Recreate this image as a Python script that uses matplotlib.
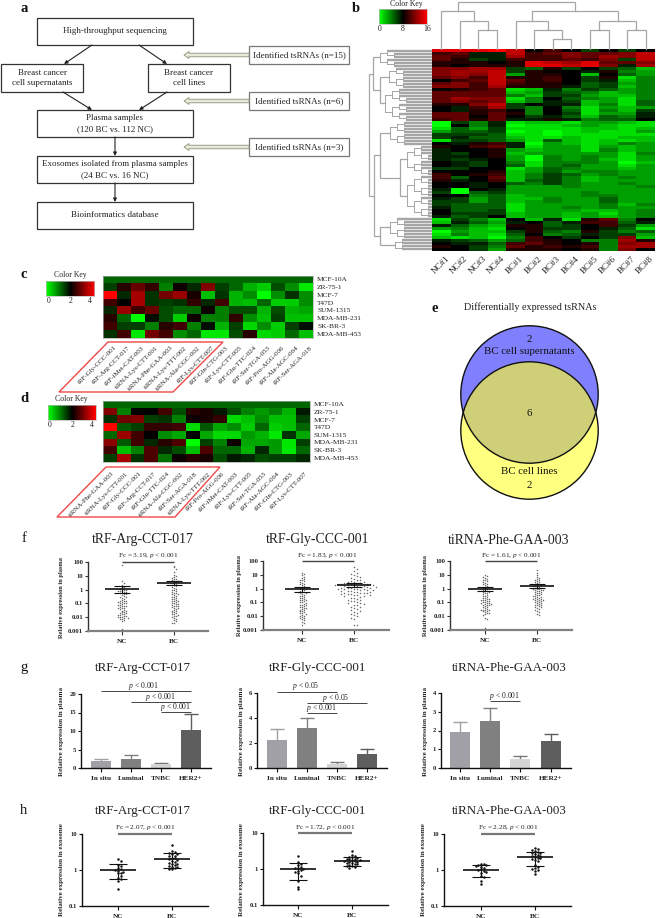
import numpy as np
import matplotlib
matplotlib.use("Agg")
import matplotlib.pyplot as plt
from matplotlib.colors import LinearSegmentedColormap
from matplotlib.patches import Rectangle, Circle, Polygon, FancyArrow

plt.rcParams['font.family'] = ['Liberation Serif', 'DejaVu Serif']
plt.rcParams['mathtext.fontset'] = 'custom'
plt.rcParams['mathtext.rm'] = 'Liberation Serif'
plt.rcParams['mathtext.it'] = 'Liberation Serif:italic'
plt.rcParams['mathtext.bf'] = 'Liberation Serif:bold'

# ------------------ DATA ------------------
b_cols = ['NC#1','NC#2','NC#3','NC#4','BC#1','BC#2','BC#3','BC#4','BC#5','BC#6','BC#7','BC#8']
b_rows = [
 [15,15,15,16,14,8,10,8,6,8,6,8],[10,11,7,7,14,10,11,12,11,11,12,14],[11,10,7,7,13,10,10,12,11,13,12,14],
 [11,9,6,7,10,10,10,11,10,12,6,14],[9,9,9,8,9,15,14,13,15,11,11,12],[9,8,9,9,9,15,15,14,15,12,7,13],
 [12,12,13,13,6,5,9,6,8,6,5,2],[12,13,13,14,6,9,8,8,7,9,4,3],[12,13,12,14,3,9,9,8,2,8,5,3],
 [11,12,10,14,9,9,10,8,6,9,1,4],[8,10,11,14,11,9,10,8,6,7,2,4],[11,12,10,14,10,9,9,8,5,6,3,4],
 [12,12,10,13,9,9,9,7,5,6,2,4],
 [8,9,10,11,1,2,7,4,6,5,3,4],[11,11,11,11,2,3,6,5,4,2,3,4],[11,11,11,11,4,2,6,6,3,2,2,4],
 [11,13,12,12,1,4,8,5,4,3,1,4],[11,12,11,12,2,4,7,6,2,3,1,5],[9,9,12,14,6,8,7,7,2,4,1,5],
 [8,7,10,13,6,4,8,4,1,3,2,3],[8,7,9,10,8,4,8,5,1,4,2,6],[11,11,9,11,9,4,8,6,1,3,3,7],
 [11,11,8,11,8,6,7,5,2,5,4,7],[10,11,9,11,7,7,9,7,4,5,5,8],
 [0,6,4,7,1,2,2,1,3,3,2,1],[0,8,4,7,0,1,1,2,3,2,1,1],[1,5,3,6,1,1,1,1,2,2,1,2],[3,5,5,6,0,1,0,1,2,1,1,3],
 [6,6,6,5,1,1,0,1,1,1,1,1],[6,7,5,5,2,1,1,2,1,1,2,2],[1,6,6,5,3,1,5,2,1,2,1,2],[8,7,9,10,7,0,3,2,1,2,4,3],
 [9,8,10,11,7,1,3,3,1,3,2,3],[7,8,8,9,3,2,3,3,1,4,2,3],[7,6,8,9,2,3,3,3,3,3,1,4],[7,7,8,9,3,0,4,3,4,3,1,3],
 [7,6,7,8,3,0,4,3,4,2,1,3],[8,7,6,8,4,1,4,4,4,3,0,2],[8,7,6,8,5,1,4,5,3,3,1,3],[6,6,8,8,1,3,5,4,3,3,2,3],
 [8,8,8,9,2,3,5,3,4,4,3,3],[10,8,9,10,2,4,6,5,3,4,3,3],[10,5,8,11,2,4,6,4,2,3,4,3],[9,7,8,10,2,5,6,4,2,3,3,3],
 [8,8,7,8,5,4,6,4,3,3,4,3],[8,8,7,8,3,3,3,4,3,3,3,4],[7,0,8,7,3,3,3,3,3,3,3,3],[6,0,5,6,3,3,3,3,4,3,3,3],
 [8,8,4,5,2,3,3,3,4,4,3,3],[7,6,3,5,2,2,4,3,3,5,3,3],[6,6,3,5,2,3,4,3,3,5,3,3],[6,5,5,5,1,3,3,3,3,4,2,4],
 [7,5,5,5,1,3,3,4,3,4,3,3],[8,5,5,6,1,3,3,3,2,2,3,4],[8,6,6,6,2,3,3,2,3,1,3,4],[7,5,6,8,2,3,3,2,3,2,3,4],
 [1,6,4,2,8,2,7,1,9,11,4,8],[2,7,5,3,7,8,5,7,10,10,5,7],[7,5,3,2,9,9,5,6,8,10,6,3],[3,4,2,1,8,9,6,6,8,7,5,1],
 [0,3,2,2,6,9,5,4,9,6,4,5],[1,4,2,1,5,8,4,5,7,6,6,3],[2,1,2,0,4,10,8,6,8,6,12,2],[7,6,5,3,5,10,9,8,4,4,13,9],
 [8,7,7,5,10,11,9,8,9,4,12,13],[9,8,6,4,11,9,10,9,10,4,13,13],[8,8,6,3,9,9,9,8,9,4,12,8],
]
cell_lines_c = ['MCF-10A','ZR-75-1','MCF-7','T47D','SUM-1315','MDA-MB-231','SK-BR-3','MDA-MB-453']
c_labels = ['tRF-Gly-CCC-001','tRF-Arg-CCT-017','tRF-iMet-CAT-003','tiRNA-Lys-CTT-001','tiRNA-Phe-GAA-003',
            'tiRNA-Lys-TTT-002','tiRNA-Ala-CGC-002','tRF-Lys-CTT-007','tRF-Gln-CTG-003','tRF-Lys-CTT-005',
            'tRF-Glu-TTC-024','tRF-Ser-TGA-053','tRF-Pro-AGG-006','tRF-Ala-AGC-064','tRF-Ser-AGA-018']
c_vals = [
 [1.2,1.2,1.2,1.2,1.2,1.2,1.2,1.2,1.2,1.2,1.2,1.2,1.2,1.2,1.2],
 [1.5,2.3,2.8,2.4,1.0,2.1,1.7,3.0,1.5,1.2,0.6,0.4,1.4,0.9,0.2],
 [4.0,1.7,3.3,1.6,2.9,3.2,2.2,0.5,1.6,0.6,0.9,0.0,0.9,1.6,0.9],
 [2.5,2.0,3.3,1.6,1.5,1.6,2.4,1.7,2.5,0.6,0.5,1.2,0.4,0.4,0.9],
 [1.7,3.2,2.5,2.8,1.4,1.2,1.2,2.1,1.0,1.4,1.4,0.6,1.4,0.6,0.7],
 [2.3,1.2,0.0,1.9,1.4,0.4,2.1,1.0,1.0,2.4,0.9,0.5,1.5,0.5,0.5],
 [2.5,1.5,1.5,1.0,2.3,2.5,1.0,1.9,0.6,1.5,0.3,0.9,0.4,1.5,1.9],
 [1.6,2.5,0.2,2.9,2.5,0.9,1.2,0.2,0.2,1.4,2.3,0.3,0.4,1.2,0.5],
]
d_labels = ['tiRNA-Phe-GAA-003','tiRNA-Lys-CTT-001','tRF-Gly-CCC-001','tRF-Arg-CCT-017','tRF-Glu-TTC-024',
            'tiRNA-Ala-CGC-002','tRF-Ser-AGA-018','tiRNA-Lys-TTT-002','tRF-Pro-AGG-006','tRF-iMet-CAT-003',
            'tRF-Lys-CTT-005','tRF-Ser-TGA-053','tRF-Ala-AGC-064','tRF-Gln-CTG-003','tRF-Lys-CTT-007']
d_vals = [
 [1.2,1.2,1.2,1.2,1.2,1.2,1.2,1.2,1.2,1.2,1.2,1.2,1.2,1.2,1.2],
 [3.0,1.0,2.0,2.0,2.5,1.4,2.3,2.2,1.8,1.4,1.0,0.8,1.0,0.6,1.8],
 [1.6,2.9,3.0,1.5,1.6,1.0,2.1,2.2,2.4,0.3,0.5,0.9,0.5,0.5,1.5],
 [4.0,1.3,1.5,2.4,2.4,2.5,0.3,1.3,0.7,0.9,0.4,1.2,0.4,0.5,1.2],
 [1.2,3.2,2.5,2.0,0.9,0.7,2.0,0.7,0.3,0.3,0.8,0.6,0.2,1.6,0.7],
 [3.1,1.3,2.5,1.7,2.3,2.6,0.0,1.5,1.0,2.1,0.7,0.7,0.8,0.2,1.5],
 [2.5,0.5,1.0,2.6,1.7,1.4,0.5,2.6,1.2,1.2,0.6,1.7,0.8,0.2,1.2],
 [1.5,3.3,1.6,2.6,1.1,2.1,2.3,2.2,1.4,1.8,1.7,1.4,1.5,1.5,1.7],
]
titles = ['tRF-Arg-CCT-017','tRF-Gly-CCC-001','tiRNA-Phe-GAA-003']
f_fc = ['Fc = 3.19, $p$ < 0.001','Fc = 1.83, $p$ < 0.001','Fc = 1.61, $p$ < 0.001']
h_fc = ['Fc = 2.07, $p$ < 0.001','Fc = 1.72, $p$ < 0.001','Fc = 2.28, $p$ < 0.001']

f1_nc = [60,4,3,2.2,1.6,1.5,1.2,1.1,1,.9,.85,.8,.75,.7,.65,.6,.55,.5,.45,.4,.35,.3,.3,.25,.2,.18,.16,.15,.14,.13,.12,.11,.1,.1,.09,.08,.075,.07,.065,.06,.055,.05,.05,.045,.04,.035,.03,.03,.025,.022,.02,.02,.018,.016,.015,.014,.013,.012,.011,.01,.01,.009,.009,.008,.007,.006,.005,.0015]
f1_bc = [55,40,30,20,12,9,8,7,6,5.5,5,4.5,4,3.5,3,2.8,2.5,2.2,2,1.8,1.5,1.3,1.1,1,.9,.8,.7,.6,.55,.5,.45,.4,.35,.3,.28,.25,.22,.2,.18,.16,.15,.14,.12,.11,.1,.09,.085,.08,.07,.065,.06,.055,.05,.045,.04,.035,.03,.028,.025,.022,.02,.018,.016,.015,.013,.012,.01,.009,.008,.006,.005,.004,.004]
f2_nc = [14,11,9,7,6,5,4.5,4,3.5,3,2.5,2.2,2,1.8,1.5,1.3,1.2,1.1,1,.9,.8,.7,.6,.55,.5,.45,.4,.35,.3,.28,.25,.22,.2,.18,.16,.15,.14,.12,.11,.1,.09,.08,.07,.065,.06,.055,.05,.045,.04,.038,.035,.03,.028,.025,.022,.02,.018,.016,.015,.013,.011,.01,.009,.008,.007,.006,.005,.004,.003,.0025]
f2_bc = [35,25,18,14,11,9,8,7,6,5,4.5,4,3.5,3.2,3,2.8,2.7,2.5,2.4,2.3,2.2,2.1,2,2,1.9,1.8,1.8,1.7,1.6,1.6,1.5,1.4,1.4,1.3,1.2,1.2,1.1,1.1,1,1,.95,.9,.9,.85,.8,.75,.7,.7,.65,.6,.6,.55,.5,.5,.45,.45,.4,.4,.38,.36,.35,.33,.3,.28,.25,.22,.2,.18,.16,.15,.13,.12,.1,.09,.085,.08,.07,.06,.05,.045,.04,.035,.03,.025,.02,.018,.015,.012,.01,.008,.006,.0025,.0025]
f3_nc = [9,8,7,6,5,4.5,4,3.5,3,2.5,2.2,2,1.8,1.5,1.3,1.2,1,.9,.8,.7,.65,.6,.55,.5,.45,.4,.35,.3,.28,.25,.22,.2,.19,.18,.16,.15,.14,.13,.12,.11,.1,.095,.09,.085,.08,.075,.07,.065,.06,.055,.05,.045,.04,.035,.03,.03,.028,.026,.024,.022,.02,.018,.016,.014,.012,.008,.006,.0015]
f3_bc = [22,14,10,7,6,5,4.5,4,3.5,3,2.8,2.5,2.2,2,1.8,1.7,1.6,1.5,1.4,1.3,1.2,1.1,1,.95,.9,.85,.8,.75,.7,.65,.6,.55,.5,.45,.4,.38,.35,.32,.3,.28,.26,.24,.22,.2,.19,.18,.17,.16,.15,.14,.13,.12,.11,.1,.09,.085,.08,.07,.065,.06,.055,.05,.045,.04,.035,.03,.025,.02,.015,.012]
f_groups = [(f1_nc, f1_bc), (f2_nc, f2_bc), (f3_nc, f3_bc)]
f_stats = [((1.2,1.8,0.6),(3.2,4.0,2.2)), ((1.0,1.4,0.6),(1.83,2.5,1.3)), ((1.0,1.4,0.65),(1.61,2.2,1.05))]

g_cats = ['In situ','Luminal','TNBC','HER2+']
g_means = [[1.8,2.5,1.0,10.2],[2.25,3.2,0.35,1.15],[1.9,2.53,0.5,1.43]]
g_tops = [[2.5,3.4,1.4,14.5],[3.1,4.0,0.48,1.55],[2.45,3.22,0.65,1.82]]
g_ymax = [20,6,4]
g_ticks = [[0,5,10,15,20],[0,2,4,6],[0,1,2,3,4]]

h1_nc = [2.0,1.8,1.4,1.3,1.15,1.05,1.0,.95,.9,.85,.8,.7,.6,.55,.5,.3]
h1_bc = [5,3.3,3.1,3,2.8,2.7,2.5,2.4,2.2,2.1,2,1.9,1.8,1.7,1.6,1.5,1.45,1.4,1.3,1.25,1.2,1.15,1.1,1.05]
h2_nc = [2.3,1.6,1.4,1.3,1.15,1.1,1.05,1,.95,.9,.85,.75,.65,.45,.32,.27]
h2_bc = [3.2,2.5,2.3,2.2,2.1,2,1.95,1.9,1.85,1.8,1.75,1.7,1.65,1.6,1.55,1.5,1.45,1.4,1.35,1.3,1.25,1.2,1.15,1.05]
h3_nc = [1.5,1.45,1.4,1.4,1.3,1.25,1.15,1.05,1.0,.95,.9,.85,.7,.65,.5,.42]
h3_bc = [4,3.8,3.5,3.3,3.1,3,2.9,2.8,2.6,2.5,2.4,2.3,2.2,2.1,2,1.9,1.8,1.4,1.25,1.15,1.1,1,.95,.78]
h_groups = [(h1_nc,h1_bc),(h2_nc,h2_bc),(h3_nc,h3_bc)]
h_stats = [((1.0,1.5,0.56),(2.07,3.0,1.15)), ((1.0,1.5,0.5),(1.72,2.2,1.25)), ((1.0,1.4,0.65),(2.28,3.2,1.3))]

# ------------------ LAYOUT ------------------
W, H = 656, 918
fig = plt.figure(figsize=(W/100, H/100), dpi=100, facecolor='white')
cmap = LinearSegmentedColormap.from_list('gbr', ['#00ff00', '#000000', '#ff0000'])
TC = '#222222'

def ax_px(x0, y0, x1, y1, **kw):
    return fig.add_axes([x0/W, 1-y1/H, (x1-x0)/W, (y1-y0)/H], **kw)

ov = fig.add_axes([0, 0, 1, 1], zorder=10)
ov.set_xlim(0, W); ov.set_ylim(H, 0); ov.axis('off')

def T(x, y, s, size=6.5, **kw):
    kw.setdefault('ha', 'center'); kw.setdefault('va', 'center'); kw.setdefault('color', TC)
    ov.text(x, y, s, fontsize=size, **kw)

for s, x, y in [('a',24,9),('b',356,8),('c',24,275),('d',24,398),('e',435,308),('f',24,539),('g',24,667),('h',24,811)]:
    T(x, y, s, size=10.5, fontweight='bold' if s in 'abcde' else 'normal', color='#111111')

# panel a
boxes = [(37,18,193,45),(1,64,83,92),(148,64,230,92),(37,110,193,137),(37,156,193,183),(37,202,193,229)]
for x0,y0,x1,y1 in boxes:
    ov.add_patch(Rectangle((x0,y0),x1-x0,y1-y0,fc='white',ec='#333333',lw=0.9))
for x,y,s in [(115,31,'High-throughput sequencing'),(42,73,'Breast cancer'),(42,83,'cell supernatants'),
              (189,73,'Breast cancer'),(189,83,'cell lines'),(115,118,'Plasma samples'),(115,129,'(120 BC vs. 112 NC)'),
              (115,164,'Exosomes isolated from plasma samples'),(115,175,'(24 BC vs. 16 NC)'),(115,215,'Bioinformatics database')]:
    T(x,y,s)
for (x0,y0,x1,y1) in [(92,45,64,64),(139,45,167,64),(63,92,92,110),(167,92,139,110),(115,137,115,156),(115,183,115,202)]:
    ov.annotate('', xy=(x1,y1), xytext=(x0,y0), arrowprops=dict(arrowstyle='-|>', color='#222222', lw=0.8, mutation_scale=5, shrinkA=0, shrinkB=0))
for y, s in [(55,'Identified tsRNAs (n=15)'),(101,'Identified tsRNAs (n=6)'),(147,'Identified tsRNAs (n=3)')]:
    ov.add_patch(Rectangle((249,y-9),100,18,fc='white',ec='#777777',lw=0.9))
    T(299,y,s)
    ov.add_patch(FancyArrow(249,y,-65,0,width=3.5,head_width=7,head_length=5,length_includes_head=True,fc='#e9ead8',ec='#9a9c88',lw=0.7))

# panel b
ax = ax_px(432,49,655,251)
ax.imshow(np.array(b_rows,float),cmap=cmap,vmin=0,vmax=16,aspect='auto',interpolation='nearest')
ax.axis('off')
nrow = len(b_rows)
rowy = lambda i: 49 + (i+.5)*202/nrow
colx = lambda i: 432 + (i+.5)*223/12

def key(x0,y0,x1,y1,labels,tx,ty,cx,cy):
    a = ax_px(x0,y0,x1,y1)
    a.imshow(np.linspace(0,1,64)[None,:],cmap=cmap,aspect='auto',vmin=0,vmax=1)
    a.set_xticks([]); a.set_yticks([])
    for sp in a.spines.values(): sp.set_color('#bbbbbb'); sp.set_linewidth(0.5)
    T(cx,cy,'Color Key',size=5.6)
    for t,l in zip(tx,labels): T(t,ty,l,size=5.6)
key(379,9,427,24,['0','8','16'],[380,403,427],29,406,4)
key(46,281,94,296,['0','2','4'],[49,71,90],301,70,275)
key(48,405,96,420,['0','2','4'],[50,73,92],425,71,399)

for i,s in enumerate(b_cols):
    ov.text(colx(i)+4,255,s,rotation=45,ha='right',va='top',rotation_mode='anchor',fontsize=6.5,color=TC)

# column dendrogram: (height_y, left, right), leaves are column indices
col_tree = (2,(11,0,(21,1,(30,2,3))),(11,(21,4,(30,5,(39,6,7))),(21,(30,8,9),(30,10,11))))
DG = '#a6a6a6'
def draw_col(n):
    if isinstance(n,int): return colx(n), 49
    h,l,r = n
    x1,y1 = draw_col(l); x2,y2 = draw_col(r)
    ov.plot([x1,x1,x2,x2],[y1,h,h,y2],color=DG,lw=0.9,solid_joinstyle='miter')
    return (x1+x2)/2,h
draw_col(col_tree)

# row dendrogram: nodes are (x, [children]); one-element child list = block of that many rows
row_tree = (369,[(373,[(380,[6]),(380,[(389,[7]),(385,[11])])]),
                 (374,[(380,[(390,[8]),(400,[(407,[10]),(407,[14])])]),(380,[(390,[7]),(395,[4])])])])
counter = [0]
def block(x,n):
    if n == 1:
        y = rowy(counter[0]); counter[0]+=1
        return y, None
    a = n//2
    xn = min(x+7, 428)
    y1,x1 = block(xn,a); y2,x2 = block(xn,n-a)
    for yy,xx in ((y1,x1),(y2,x2)):
        if xx is None:
            ov.plot([x,432],[yy,yy],color=DG,lw=1.7,solid_capstyle='butt')
        else:
            ov.plot([xx,x],[yy,yy],color=DG,lw=0.7,solid_capstyle='butt')
    ov.plot([x,x],[y1,y2],color=DG,lw=0.7)
    return (y1+y2)/2, x
def draw_row(n):
    x,ch = n
    if len(ch)==1: return block(x,ch[0])
    y1,x1 = draw_row(ch[0]); y2,x2 = draw_row(ch[1])
    ov.plot([x1,x,x,x2],[y1,y1,y2,y2],color=DG,lw=0.9,solid_joinstyle='miter')
    return (y1+y2)/2, x
draw_row(row_tree)

# panels c and d
def small_heat(vals,labels,x0,y0,x1,y1,lab_dx,lab_y,rowx,poly):
    a = ax_px(x0,y0,x1,y1)
    a.imshow(np.array(vals),cmap=cmap,vmin=0,vmax=4,aspect='auto',interpolation='nearest')
    a.set_xticks([]); a.set_yticks([])
    for sp in a.spines.values(): sp.set_color('#aaaaaa'); sp.set_linewidth(0.5)
    for i,s in enumerate(cell_lines_c):
        T(rowx,y0+(i+.5)*(y1-y0)/8,s,size=5.3,ha='left')
    for i,s in enumerate(labels):
        ov.text(x0+(i+.5)*(x1-x0)/15+lab_dx,lab_y,s,rotation=45,ha='right',va='top',rotation_mode='anchor',fontsize=5,color=TC)
    ov.add_patch(Polygon(poly,closed=True,fc='none',ec='#f04848',lw=1.0))
small_heat(c_vals,c_labels,103,276,313,338,4,345,317,[(108,342),(223,342),(173,392),(59,392)])
small_heat(d_vals,d_labels,103,401,310,462,2,471,314,[(106,467),(220,467),(175,517),(57,517)])

# panel e
cx,yt,yb,r = 529.5,394.5,430.5,68.7
c_b = Circle((cx,yb),r,fc='#ffff80',ec='none')
c_t = Circle((cx,yt),r,fc='#8080ff',ec='none')
ov.add_patch(c_b); ov.add_patch(c_t)
inter = Circle((cx,yt),r,fc='#cfcf78',ec='none')
ov.add_patch(inter); inter.set_clip_path(Circle((cx,yb),r,transform=ov.transData))
ov.add_patch(Circle((cx,yb),r,fc='none',ec='#111111',lw=1.0))
ov.add_patch(Circle((cx,yt),r,fc='none',ec='#111111',lw=1.0))
T(530,307,'Differentially expressed tsRNAs',size=7.3)
for y,s in [(340,'2'),(352,'BC cell supernatants'),(413,'6'),(472,'BC cell lines'),(485,'2')]:
    T(529.5,y,s,size=7.8,color='#111111')

# swarm helper: spreads equal values sideways, in pixels
def swarm(vals,ax,d):
    ys = ax.transData.transform(np.c_[np.zeros(len(vals)),vals])[:,1]
    placed = []; out = []
    for y in ys:
        k = 0
        while True:
            off = ((k+1)//2)*d*(1 if k%2 else -1)
            if all((off-px)**2+(y-py)**2 >= d*d*0.9 for px,py in placed):
                break
            k += 1
        placed.append((off,y)); out.append(off)
    return np.array(out)

def style(a,xs,labels,yticks,ylabs,axc='#111111',botc='#111111',botw=1.0):
    a.set_xticks(xs); a.set_xticklabels(labels,fontsize=5.2,fontweight='bold',color=TC)
    a.set_yticks(yticks); a.set_yticklabels(ylabs,fontsize=4.8,fontweight='bold',color=TC)
    a.minorticks_off()
    a.tick_params(axis='y',length=2.5,width=0.8,pad=1,color=axc)
    a.tick_params(axis='x',length=3,width=0.8,pad=2.5,color=axc)
    a.spines['top'].set_visible(False); a.spines['right'].set_visible(False)
    a.spines['left'].set_linewidth(1.0); a.spines['left'].set_color(axc)
    a.spines['bottom'].set_linewidth(botw); a.spines['bottom'].set_color(botc)
    a.patch.set_alpha(0)

def dots_panel(box,cats,groups,stats,ylim,yticks,ylabs,ds,ms,col,capw,meanw,axc,botc,botw):
    x0,y0,x1,y1 = box
    a = ax_px(x0,y0,x1,y1)
    a.set_xlim(x0,x1); a.set_yscale('log'); a.set_ylim(*ylim)
    for xc,vals,(m,up,lo),d in zip(cats,groups,stats,ds):
        v = np.array(vals,float)
        a.scatter(xc+swarm(v,a,d),v,s=ms,color=col,lw=0,clip_on=False,zorder=2)
        a.plot([xc-meanw,xc+meanw],[m,m],color='#111111',lw=1.2,zorder=3,solid_capstyle='butt')
        a.plot([xc,xc],[lo,up],color='#111111',lw=0.8,zorder=3)
        for e in (lo,up):
            a.plot([xc-capw,xc+capw],[e,e],color='#111111',lw=0.8,zorder=3,solid_capstyle='butt')
    style(a,cats,['NC','BC'],yticks,ylabs,axc,botc,botw)
    return a

# panel f
f_boxes = [(88,562,208,631),(263,561,389,630),(450,561,572,630)]
f_x = [(122,174),(302,354),(485,537)]
f_title = [(143,539),(318,539),(509,540)]
f_fcx = [148,327,511]
f_yl = [62,240,425]
f_yc = [598,596,596]
f_d = [(1.9,1.9),(1.9,3.2),(1.9,1.9)]
for i in range(3):
    dots_panel(f_boxes[i],f_x[i],f_groups[i],f_stats[i],(0.001,100),[0.001,0.01,0.1,1,10,100],
               ['0.001','0.01','0.1','1','10','100'],f_d[i],1.2,'#6a6a6a',8,17,'#333333','#808080',1.6)
    T(f_title[i][0],f_title[i][1],titles[i],size=9.9)
    T(f_fcx[i],556,f_fc[i],size=5.2)
    ov.plot(f_x[i],[f_boxes[i][1]]*2,color='#444444',lw=1.0,solid_capstyle='butt')
    T(f_yl[i],f_yc[i],'Relative expression in plasma',size=4.6,rotation=90,fontweight='bold')

# panel g
g_boxes = [(81,694,211,768),(257,693,387,768),(441,693,571,768)]
g_x = [(101,131,161,191),(277,307,337,367),(460,490,520,551)]
g_colors = ['#a0a0a6','#808080','#d4d4d4','#5e5e5e']
g_title = [143,318,509]
g_yl = [62,241,425]
g_sig = [
  [(101,191,691,144,686,'$p$ < 0.001'),(131,191,702,161,697,'$p$ < 0.001'),(161,191,712,176,707,'$p$ < 0.001')],
  [(277,337,692,306,686,'$p$ < 0.05'),(307,367,703,336,698,'$p$ < 0.05'),(307,337,713,322,708,'$p$ < 0.001')],
  [(490,520,701,505,696,'$p$ < 0.001')],
]
for i in range(3):
    x0,y0,x1,y1 = g_boxes[i]
    a = ax_px(x0,y0,x1,y1)
    a.set_xlim(x0,x1); a.set_ylim(0,g_ymax[i])
    a.bar(g_x[i],g_means[i],width=20,color=g_colors,zorder=2)
    for xc,m,t,c in zip(g_x[i],g_means[i],g_tops[i],g_colors):
        ec = '#777777' if c == '#d4d4d4' else c
        a.plot([xc,xc],[m,t],color=ec,lw=1.0,zorder=1)
        a.plot([xc-7,xc+7],[t,t],color=ec,lw=1.0,zorder=1,solid_capstyle='butt')
    style(a,g_x[i],g_cats,g_ticks[i],[str(v) for v in g_ticks[i]])
    T(g_title[i],668,titles[i],size=9.4)
    T(g_yl[i],731,'Relative expression in plasma',size=5,rotation=90,fontweight='bold')
    for xa,xb,y,tx,ty,s in g_sig[i]:
        ov.plot([xa,xb],[y,y],color='#444444',lw=0.7,solid_capstyle='butt')
        T(tx,ty,s,size=5.5)

# panel h
h_boxes = [(82,834,208,906),(263,833,388,905),(444,834,571,906)]
h_x = [(118,172),(298,352),(481,535)]
h_fcx = [145,325,508]
h_yl = [61,242,424]
for i in range(3):
    dots_panel(h_boxes[i],h_x[i],h_groups[i],h_stats[i],(0.1,10),[0.1,1,10],['0.1','1','10'],
               (2.7,2.7),3.2,'#111111',9,18,'#111111','#111111',1.0)
    T(g_title[i],811,titles[i],size=9.4)
    T(h_fcx[i],828,h_fc[i],size=5.2)
    ov.plot(h_x[i],[h_boxes[i][1]]*2,color='#777777',lw=1.6,solid_capstyle='butt')
    T(h_yl[i],870,'Relative expression in exosome',size=5,rotation=90,fontweight='bold')

fig.savefig('out.png',dpi=100,facecolor='white')
